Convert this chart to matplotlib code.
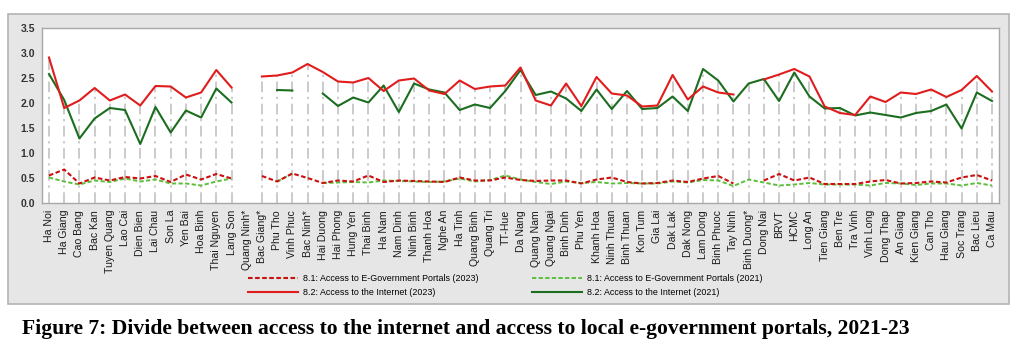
import numpy as np
import matplotlib
matplotlib.use('Agg')
import matplotlib.pyplot as plt
from matplotlib.patches import Rectangle
from matplotlib.lines import Line2D

# provinces (x axis)
provinces = ['Ha Noi', 'Ha Giang', 'Cao Bang', 'Bac Kan', 'Tuyen Quang', 'Lao Cai', 'Dien Bien',
             'Lai Chau', 'Son La', 'Yen Bai', 'Hoa Binh', 'Thai Nguyen', 'Lang Son', 'Quang Ninh*',
             'Bac Giang*', 'Phu Tho', 'Vinh Phuc', 'Bac Ninh*', 'Hai Duong', 'Hai Phong', 'Hung Yen',
             'Thai Binh', 'Ha Nam', 'Nam Dinh', 'Ninh Binh', 'Thanh Hoa', 'Nghe An', 'Ha Tinh',
             'Quang Binh', 'Quang Tri', 'TT-Hue', 'Da Nang', 'Quang Nam', 'Quang Ngai', 'Binh Dinh',
             'Phu Yen', 'Khanh Hoa', 'Ninh Thuan', 'Binh Thuan', 'Kon Tum', 'Gia Lai', 'Dak Lak',
             'Dak Nong', 'Lam Dong', 'Binh Phuoc', 'Tay Ninh', 'Binh Duong*', 'Dong Nai', 'BRVT',
             'HCMC', 'Long An', 'Tien Giang', 'Ben Tre', 'Tra Vinh', 'Vinh Long', 'Dong Thap',
             'An Giang', 'Kien Giang', 'Can Tho', 'Hau Giang', 'Soc Trang', 'Bac Lieu', 'Ca Mau']

nan = np.nan

# 8.1 Access to E-Government Portals (2023)
portal_2023 = [0.55, 0.67, 0.39, 0.51, 0.45, 0.52, 0.49, 0.54, 0.42, 0.57, 0.47, 0.58, 0.49, nan,
               0.54, 0.43, 0.59, 0.50, 0.40, 0.45, 0.43, 0.55, 0.42, 0.45, 0.44, 0.43, 0.42, 0.51,
               0.45, 0.45, 0.51, 0.46, 0.44, 0.45, 0.45, 0.39, 0.47, 0.51, 0.42, 0.39, 0.40, 0.45,
               0.42, 0.49, 0.54, 0.39, nan, 0.45, 0.58, 0.45, 0.51, 0.38, 0.38, 0.38, 0.43, 0.46,
               0.39, 0.40, 0.43, 0.41, 0.51, 0.56, 0.45]

# 8.1 Access to E-Government Portals (2021)
portal_2021 = [0.51, 0.43, 0.37, 0.45, 0.42, 0.49, 0.43, 0.47, 0.39, 0.39, 0.35, 0.43, 0.49, nan,
               nan, 0.43, 0.59, nan, 0.40, 0.41, 0.42, 0.41, 0.45, 0.44, 0.43, 0.42, 0.43, 0.49,
               0.43, 0.46, 0.55, 0.47, 0.42, 0.38, 0.43, 0.40, 0.42, 0.39, 0.40, 0.39, 0.39, 0.43,
               0.41, 0.46, 0.45, 0.34, 0.47, 0.41, 0.35, 0.37, 0.40, 0.37, 0.37, 0.37, 0.35, 0.40,
               0.39, 0.36, 0.39, 0.39, 0.35, 0.40, 0.35]

# 8.2 Access to the Internet (2023)
internet_2023 = [2.91, 1.90, 2.05, 2.30, 2.05, 2.17, 1.95, 2.34, 2.33, 2.11, 2.21, 2.66, 2.31, nan,
                 2.53, 2.55, 2.61, 2.78, 2.62, 2.43, 2.41, 2.50, 2.24, 2.45, 2.49, 2.25, 2.18, 2.45,
                 2.28, 2.33, 2.35, 2.71, 2.05, 1.95, 2.39, 1.94, 2.52, 2.19, 2.15, 1.93, 1.95, 2.56,
                 2.07, 2.33, 2.21, 2.17, nan, 2.47, 2.57, 2.68, 2.53, 1.93, 1.80, 1.76, 2.13, 2.02,
                 2.21, 2.18, 2.27, 2.12, 2.26, 2.54, 2.23]

# 8.2 Access to the Internet (2021)
internet_2021 = [2.58, 2.06, 1.29, 1.69, 1.90, 1.86, 1.18, 1.92, 1.41, 1.85, 1.71, 2.29, 2.01, nan,
                 nan, 2.26, 2.25, nan, 2.19, 1.94, 2.11, 2.01, 2.35, 1.82, 2.39, 2.27, 2.21, 1.86,
                 1.97, 1.90, 2.24, 2.66, 2.16, 2.23, 2.09, 1.84, 2.27, 1.88, 2.24, 1.88, 1.90, 2.13,
                 1.84, 2.68, 2.45, 2.03, 2.39, 2.48, 2.04, 2.61, 2.13, 1.89, 1.90, 1.75, 1.81, 1.76,
                 1.71, 1.80, 1.84, 1.97, 1.49, 2.21, 2.04]

yticks = [0.0, 0.5, 1.0, 1.5, 2.0, 2.5, 3.0, 3.5]

sans = ['Liberation Sans', 'DejaVu Sans']

fig = plt.figure(figsize=(10.24, 3.53), dpi=100)

# grey panel behind chart and legend
panel = Rectangle((8 / 1024, 1 - 304 / 353), 1001 / 1024, 290 / 353, transform=fig.transFigure,
                  facecolor='#e6e6e6', edgecolor='#b4b4b4', linewidth=1.2, zorder=-5)
fig.patches.append(panel)

ax = fig.add_axes([42 / 1024, 1 - 203 / 353, 957 / 1024, 175 / 353])
ax.set_facecolor('white')

x = np.arange(len(provinces))
tops = np.nanmax(np.vstack([portal_2023, portal_2021, internet_2023, internet_2021]), axis=0)
for xi, t in zip(x, tops):
    if not np.isnan(t):
        ax.plot([xi, xi], [0, t], color='#bdbdbd', lw=1.1, dashes=(7, 3, 1.5, 3), zorder=1)

ax.plot(x, portal_2021, color='#5cbf3c', lw=1.4, dashes=(2.2, 1.2), zorder=3)
ax.plot(x, portal_2023, color='#cc1010', lw=1.5, dashes=(2.2, 1.2), zorder=4)
ax.plot(x, internet_2021, color='#1b6e1f', lw=1.5, zorder=3)
ax.plot(x, internet_2023, color='#e01c1c', lw=1.5, zorder=4)

ax.set_xlim(-0.46, len(provinces) - 0.54)
ax.set_ylim(0, 3.5)
ax.set_yticks(yticks)
ax.set_yticklabels(['%.1f' % v for v in yticks], family=sans, fontsize=7.5, fontweight='bold',
                   color='#333333')
ax.set_xticks(x)
ax.set_xticklabels(provinces, rotation=90, family=sans, fontsize=7.6, color='#1a1a1a')
ax.tick_params(axis='both', length=0, pad=5)
for s in ax.spines.values():
    s.set_color('#a8a8a8')
    s.set_linewidth(1.0)

handles = [
    Line2D([], [], color='#cc1010', lw=1.5, dashes=(2.2, 1.2)),
    Line2D([], [], color='#e01c1c', lw=1.5),
    Line2D([], [], color='#5cbf3c', lw=1.4, dashes=(2.2, 1.2)),
    Line2D([], [], color='#1b6e1f', lw=1.5),
]
labels = ['8.1: Access to E-Government Portals (2023)', '8.2: Access to the Internet (2023)',
          '8.1: Access to E-Government Portals (2021)', '8.2: Access to the Internet (2021)']
fig.legend(handles, labels, ncol=2, loc='upper left', bbox_to_anchor=(248 / 1024, 1 - 274 / 353),
           frameon=False, prop={'family': sans, 'size': 6.4}, handlelength=5.6,
           handletextpad=0.6, columnspacing=6.0, labelspacing=0.6, borderpad=0,
           borderaxespad=0)

fig.text(22 / 1024, 1 - 329 / 353,
         'Figure 7: Divide between access to the internet and access to local e-government portals, 2021-23',
         family=['Liberation Serif', 'DejaVu Serif'], fontweight='bold', fontsize=15.6,
         va='center', ha='left', color='black')

fig.savefig('out.png', dpi=100)
